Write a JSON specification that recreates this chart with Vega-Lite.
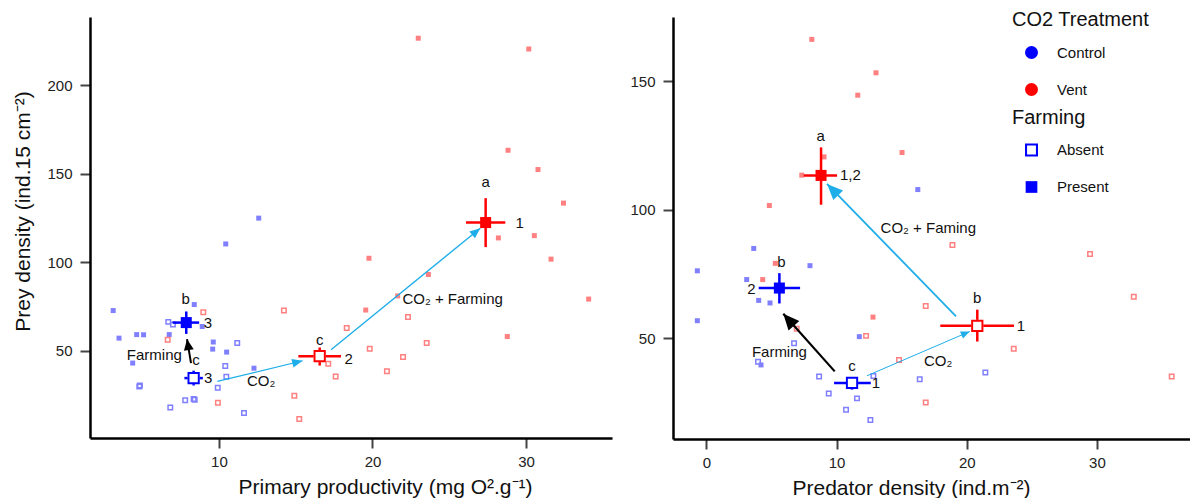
{
  "$schema": "https://vega.github.io/schema/vega-lite/v6.json",
  "padding": {"left": 12, "top": 10, "right": 0, "bottom": 0},
  "spacing": 17,
  "datasets": {
    "points": [
      {"panel":"PP","co2":"Control","farming":"Present","x":12.59,"y":124.9},
      {"panel":"PP","co2":"Control","farming":"Present","x":10.44,"y":110.3},
      {"panel":"PP","co2":"Control","farming":"Present","x":3.11,"y":72.6},
      {"panel":"PP","co2":"Control","farming":"Present","x":8.39,"y":76.0},
      {"panel":"PP","co2":"Control","farming":"Present","x":3.49,"y":57.0},
      {"panel":"PP","co2":"Control","farming":"Present","x":4.64,"y":59.0},
      {"panel":"PP","co2":"Control","farming":"Present","x":5.09,"y":58.9},
      {"panel":"PP","co2":"Control","farming":"Present","x":6.76,"y":59.0},
      {"panel":"PP","co2":"Control","farming":"Present","x":8.91,"y":63.6},
      {"panel":"PP","co2":"Control","farming":"Present","x":9.63,"y":54.8},
      {"panel":"PP","co2":"Control","farming":"Present","x":9.59,"y":50.8},
      {"panel":"PP","co2":"Control","farming":"Present","x":10.50,"y":49.1},
      {"panel":"PP","co2":"Control","farming":"Present","x":4.38,"y":42.9},
      {"panel":"PP","co2":"Control","farming":"Present","x":12.28,"y":40.0},
      {"panel":"PP","co2":"Control","farming":"Absent","x":6.70,"y":66.2},
      {"panel":"PP","co2":"Control","farming":"Absent","x":7.00,"y":64.7},
      {"panel":"PP","co2":"Control","farming":"Absent","x":11.19,"y":54.2},
      {"panel":"PP","co2":"Control","farming":"Absent","x":10.41,"y":41.3},
      {"panel":"PP","co2":"Control","farming":"Absent","x":10.48,"y":35.1},
      {"panel":"PP","co2":"Control","farming":"Absent","x":9.92,"y":28.9},
      {"panel":"PP","co2":"Control","farming":"Absent","x":4.81,"y":29.6},
      {"panel":"PP","co2":"Control","farming":"Absent","x":4.85,"y":30.2},
      {"panel":"PP","co2":"Control","farming":"Absent","x":7.80,"y":21.9},
      {"panel":"PP","co2":"Control","farming":"Absent","x":8.42,"y":22.1},
      {"panel":"PP","co2":"Control","farming":"Absent","x":8.35,"y":22.6},
      {"panel":"PP","co2":"Control","farming":"Absent","x":6.83,"y":17.8},
      {"panel":"PP","co2":"Control","farming":"Absent","x":11.63,"y":14.6},
      {"panel":"PP","co2":"Vent","farming":"Absent","x":8.98,"y":71.7},
      {"panel":"PP","co2":"Vent","farming":"Absent","x":14.23,"y":72.6},
      {"panel":"PP","co2":"Vent","farming":"Absent","x":6.66,"y":56.1},
      {"panel":"PP","co2":"Vent","farming":"Absent","x":17.12,"y":42.5},
      {"panel":"PP","co2":"Vent","farming":"Absent","x":17.60,"y":35.3},
      {"panel":"PP","co2":"Vent","farming":"Absent","x":14.91,"y":24.4},
      {"panel":"PP","co2":"Vent","farming":"Absent","x":9.93,"y":20.4},
      {"panel":"PP","co2":"Vent","farming":"Absent","x":15.23,"y":11.2},
      {"panel":"PP","co2":"Vent","farming":"Absent","x":18.32,"y":62.7},
      {"panel":"PP","co2":"Vent","farming":"Absent","x":19.82,"y":51.0},
      {"panel":"PP","co2":"Vent","farming":"Absent","x":22.31,"y":68.9},
      {"panel":"PP","co2":"Vent","farming":"Absent","x":23.53,"y":54.2},
      {"panel":"PP","co2":"Vent","farming":"Absent","x":21.99,"y":46.3},
      {"panel":"PP","co2":"Vent","farming":"Absent","x":20.94,"y":38.3},
      {"panel":"PP","co2":"Vent","farming":"Present","x":19.77,"y":102.2},
      {"panel":"PP","co2":"Vent","farming":"Present","x":23.64,"y":93.0},
      {"panel":"PP","co2":"Vent","farming":"Present","x":19.56,"y":72.9},
      {"panel":"PP","co2":"Vent","farming":"Present","x":21.64,"y":80.9},
      {"panel":"PP","co2":"Vent","farming":"Present","x":28.20,"y":113.7},
      {"panel":"PP","co2":"Vent","farming":"Present","x":30.54,"y":115.0},
      {"panel":"PP","co2":"Vent","farming":"Present","x":31.63,"y":101.7},
      {"panel":"PP","co2":"Vent","farming":"Present","x":32.44,"y":133.4},
      {"panel":"PP","co2":"Vent","farming":"Present","x":28.78,"y":57.9},
      {"panel":"PP","co2":"Vent","farming":"Present","x":22.98,"y":226.7},
      {"panel":"PP","co2":"Vent","farming":"Present","x":30.18,"y":220.6},
      {"panel":"PP","co2":"Vent","farming":"Present","x":28.83,"y":163.3},
      {"panel":"PP","co2":"Vent","farming":"Present","x":30.78,"y":152.4},
      {"panel":"PP","co2":"Vent","farming":"Present","x":34.08,"y":79.1},
      {"panel":"PD","co2":"Vent","farming":"Present","x":8.10,"y":166.3},
      {"panel":"PD","co2":"Vent","farming":"Present","x":13.03,"y":153.3},
      {"panel":"PD","co2":"Vent","farming":"Present","x":11.63,"y":144.6},
      {"panel":"PD","co2":"Vent","farming":"Present","x":15.03,"y":122.3},
      {"panel":"PD","co2":"Vent","farming":"Present","x":9.04,"y":120.6},
      {"panel":"PD","co2":"Vent","farming":"Present","x":7.33,"y":113.5},
      {"panel":"PD","co2":"Vent","farming":"Present","x":4.84,"y":101.7},
      {"panel":"PD","co2":"Vent","farming":"Present","x":5.30,"y":79.2},
      {"panel":"PD","co2":"Vent","farming":"Present","x":4.33,"y":72.9},
      {"panel":"PD","co2":"Vent","farming":"Present","x":12.80,"y":58.3},
      {"panel":"PD","co2":"Control","farming":"Present","x":16.24,"y":107.9},
      {"panel":"PD","co2":"Control","farming":"Present","x":3.64,"y":85.0},
      {"panel":"PD","co2":"Control","farming":"Present","x":-0.69,"y":76.3},
      {"panel":"PD","co2":"Control","farming":"Present","x":7.96,"y":78.3},
      {"panel":"PD","co2":"Control","farming":"Present","x":3.10,"y":72.9},
      {"panel":"PD","co2":"Control","farming":"Present","x":4.02,"y":64.8},
      {"panel":"PD","co2":"Control","farming":"Present","x":4.89,"y":63.8},
      {"panel":"PD","co2":"Control","farming":"Present","x":-0.69,"y":56.9},
      {"panel":"PD","co2":"Control","farming":"Present","x":11.75,"y":50.7},
      {"panel":"PD","co2":"Control","farming":"Present","x":4.20,"y":39.7},
      {"panel":"PD","co2":"Vent","farming":"Absent","x":6.94,"y":53.8},
      {"panel":"PD","co2":"Vent","farming":"Absent","x":12.27,"y":51.0},
      {"panel":"PD","co2":"Vent","farming":"Absent","x":14.80,"y":41.6},
      {"panel":"PD","co2":"Vent","farming":"Absent","x":18.90,"y":86.3},
      {"panel":"PD","co2":"Vent","farming":"Absent","x":16.85,"y":62.6},
      {"panel":"PD","co2":"Vent","farming":"Absent","x":23.61,"y":46.0},
      {"panel":"PD","co2":"Vent","farming":"Absent","x":16.85,"y":25.1},
      {"panel":"PD","co2":"Vent","farming":"Absent","x":29.47,"y":82.8},
      {"panel":"PD","co2":"Vent","farming":"Absent","x":32.83,"y":66.2},
      {"panel":"PD","co2":"Vent","farming":"Absent","x":35.74,"y":35.2},
      {"panel":"PD","co2":"Control","farming":"Absent","x":6.74,"y":48.1},
      {"panel":"PD","co2":"Control","farming":"Absent","x":3.97,"y":40.9},
      {"panel":"PD","co2":"Control","farming":"Absent","x":8.66,"y":35.2},
      {"panel":"PD","co2":"Control","farming":"Absent","x":12.83,"y":35.4},
      {"panel":"PD","co2":"Control","farming":"Absent","x":9.40,"y":28.6},
      {"panel":"PD","co2":"Control","farming":"Absent","x":11.57,"y":26.7},
      {"panel":"PD","co2":"Control","farming":"Absent","x":10.73,"y":22.3},
      {"panel":"PD","co2":"Control","farming":"Absent","x":12.60,"y":18.3},
      {"panel":"PD","co2":"Control","farming":"Absent","x":16.39,"y":34.1},
      {"panel":"PD","co2":"Control","farming":"Absent","x":21.43,"y":36.8}
    ],
    "means": [
      {"panel":"PP","co2":"Control","farming":"Absent","x":8.35,"xlo":7.75,"xhi":8.95,"y":34.4,"ylo":30.2,"yhi":38.6},
      {"panel":"PP","co2":"Control","farming":"Present","x":7.87,"xlo":6.98,"xhi":8.71,"y":65.8,"ylo":59.4,"yhi":72.1},
      {"panel":"PP","co2":"Vent","farming":"Absent","x":16.56,"xlo":15.17,"xhi":17.95,"y":46.8,"ylo":41.5,"yhi":51.7},
      {"panel":"PP","co2":"Vent","farming":"Present","x":27.37,"xlo":26.09,"xhi":28.65,"y":122.4,"ylo":108.5,"yhi":136.2},
      {"panel":"PD","co2":"Control","farming":"Absent","x":11.19,"xlo":9.81,"xhi":12.63,"y":32.7,"ylo":30.1,"yhi":35.0},
      {"panel":"PD","co2":"Control","farming":"Present","x":5.61,"xlo":4.02,"xhi":7.20,"y":69.6,"ylo":63.6,"yhi":75.4},
      {"panel":"PD","co2":"Vent","farming":"Absent","x":20.81,"xlo":17.97,"xhi":23.63,"y":54.9,"ylo":48.8,"yhi":61.2},
      {"panel":"PD","co2":"Vent","farming":"Present","x":8.81,"xlo":7.48,"xhi":10.04,"y":113.4,"ylo":102.0,"yhi":124.3}
    ],
    "arrows": [
      {"panel":"PP","effect":"Farming","x":8.18,"y":42.9,"x2":7.92,"y2":56.4},
      {"panel":"PP","effect":"CO2","x":9.89,"y":32.5,"x2":15.45,"y2":44.2},
      {"panel":"PP","effect":"CO2 + Farming","x":17.30,"y":50.4,"x2":27.02,"y2":119.2},
      {"panel":"PD","effect":"Farming","x":9.86,"y":37.2,"x2":5.91,"y2":59.6},
      {"panel":"PD","effect":"CO2","x":12.34,"y":35.5,"x2":20.23,"y2":52.7},
      {"panel":"PD","effect":"CO2 + Farming","x":19.18,"y":58.6,"x2":9.27,"y2":110.1}
    ],
    "labels": [
      {"panel":"PP","x":27.37,"y":145.3,"label":"a"},
      {"panel":"PP","x":7.83,"y":79.4,"label":"b"},
      {"panel":"PP","x":8.50,"y":44.7,"label":"c"},
      {"panel":"PP","x":16.56,"y":56.1,"label":"c"},
      {"panel":"PP","x":9.28,"y":65.5,"label":"3"},
      {"panel":"PP","x":9.30,"y":34.4,"label":"3"},
      {"panel":"PP","x":18.45,"y":45.3,"label":"2"},
      {"panel":"PP","x":29.59,"y":122.4,"label":"1"},
      {"panel":"PP","x":5.79,"y":47.6,"label":"Farming"},
      {"panel":"PP","x":12.74,"y":32.5,"label":"CO₂"},
      {"panel":"PP","x":25.22,"y":79.1,"label":"CO₂ + Farming"},
      {"panel":"PD","x":8.79,"y":128.9,"label":"a"},
      {"panel":"PD","x":11.06,"y":113.4,"label":"1,2"},
      {"panel":"PD","x":5.76,"y":79.7,"label":"b"},
      {"panel":"PD","x":3.46,"y":69.2,"label":"2"},
      {"panel":"PD","x":11.19,"y":39.4,"label":"c"},
      {"panel":"PD","x":13.03,"y":32.7,"label":"1"},
      {"panel":"PD","x":20.81,"y":65.9,"label":"b"},
      {"panel":"PD","x":24.16,"y":55.0,"label":"1"},
      {"panel":"PD","x":5.61,"y":44.8,"label":"Farming"},
      {"panel":"PD","x":17.80,"y":41.1,"label":"CO₂"},
      {"panel":"PD","x":17.05,"y":92.9,"label":"CO₂ + Faming"}
    ]
  },
  "hconcat": [
    {
      "width": 522,
      "height": 421,
      "layer": [
        {
          "data": {"name": "points"},
          "transform": [{"filter": "datum.panel === 'PP' && datum.farming === 'Present'"}],
          "mark": {"type": "point", "shape": "square", "filled": true, "size": 25, "opacity": 1},
          "encoding": {
            "x": {"field": "x", "type": "quantitative", "scale": {"domain": [1.6, 35.6], "nice": false, "zero": false}, "title": "Primary productivity (mg O².g⁻¹)", "axis": {"values": [10, 20, 30], "titleX": 295, "titlePadding": 7}},
            "y": {"field": "y", "type": "quantitative", "scale": {"domain": [0.5, 238.7], "nice": false, "zero": false}, "title": "Prey density (ind.15 cm⁻²)", "axis": {"values": [50, 100, 150, 200], "titleY": 194, "labelPadding": 8, "titlePadding": 13}},
            "fill": {"field": "co2", "type": "nominal", "scale": {"domain": ["Vent", "Control"], "range": ["#ff8080", "#8080ff"]}, "legend": null}
          }
        },
        {
          "data": {"name": "points"},
          "transform": [{"filter": "datum.panel === 'PP' && datum.farming === 'Absent'"}],
          "mark": {"type": "point", "shape": "square", "filled": false, "size": 20, "strokeWidth": 1.5, "opacity": 1},
          "encoding": {
            "x": {"field": "x", "type": "quantitative", "title": "Primary productivity (mg O².g⁻¹)"},
            "y": {"field": "y", "type": "quantitative", "title": "Prey density (ind.15 cm⁻²)"},
            "stroke": {"field": "co2", "type": "nominal", "scale": {"domain": ["Vent", "Control"], "range": ["#ff8080", "#8080ff"]}, "legend": null}
          }
        },
        {
          "data": {"name": "arrows"},
          "transform": [{"filter": "datum.panel === 'PP'"}, {"calculate": "atan2((datum.x2 - datum.x) * 15.35, (datum.y2 - datum.y) * 1.768) * 180 / PI", "as": "angle"}],
          "layer": [
            {
              "transform": [{"filter": "datum.effect === 'Farming'"}],
              "layer": [
                {"mark": {"type": "rule", "color": "black", "strokeWidth": 2},
                 "encoding": {"x": {"field": "x", "type": "quantitative", "title": "Primary productivity (mg O².g⁻¹)"}, "y": {"field": "y", "type": "quantitative", "title": "Prey density (ind.15 cm⁻²)"}, "x2": {"field": "x2"}, "y2": {"field": "y2"}}},
                {"mark": {"type": "point", "shape": "M0,0L-0.9,2L0.9,2Z", "filled": true, "color": "black", "size": 121, "opacity": 1},
                 "encoding": {"x": {"field": "x2", "type": "quantitative", "title": "Primary productivity (mg O².g⁻¹)"}, "y": {"field": "y2", "type": "quantitative", "title": "Prey density (ind.15 cm⁻²)"}, "angle": {"field": "angle", "type": "quantitative", "scale": null}}}
              ]
            },
            {
              "transform": [{"filter": "datum.effect === 'CO2'"}],
              "layer": [
                {"mark": {"type": "rule", "color": "#1faee9", "strokeWidth": 1.2},
                 "encoding": {"x": {"field": "x", "type": "quantitative", "title": "Primary productivity (mg O².g⁻¹)"}, "y": {"field": "y", "type": "quantitative", "title": "Prey density (ind.15 cm⁻²)"}, "x2": {"field": "x2"}, "y2": {"field": "y2"}}},
                {"mark": {"type": "point", "shape": "M0,0L-0.85,2L0.85,2Z", "filled": true, "color": "#1faee9", "size": 110, "opacity": 1},
                 "encoding": {"x": {"field": "x2", "type": "quantitative", "title": "Primary productivity (mg O².g⁻¹)"}, "y": {"field": "y2", "type": "quantitative", "title": "Prey density (ind.15 cm⁻²)"}, "angle": {"field": "angle", "type": "quantitative", "scale": null}}}
              ]
            },
            {
              "transform": [{"filter": "datum.effect === 'CO2 + Farming'"}],
              "layer": [
                {"mark": {"type": "rule", "color": "#1faee9", "strokeWidth": 1.4},
                 "encoding": {"x": {"field": "x", "type": "quantitative", "title": "Primary productivity (mg O².g⁻¹)"}, "y": {"field": "y", "type": "quantitative", "title": "Prey density (ind.15 cm⁻²)"}, "x2": {"field": "x2"}, "y2": {"field": "y2"}}},
                {"mark": {"type": "point", "shape": "M0,0L-0.85,2L0.85,2Z", "filled": true, "color": "#1faee9", "size": 110, "opacity": 1},
                 "encoding": {"x": {"field": "x2", "type": "quantitative", "title": "Primary productivity (mg O².g⁻¹)"}, "y": {"field": "y2", "type": "quantitative", "title": "Prey density (ind.15 cm⁻²)"}, "angle": {"field": "angle", "type": "quantitative", "scale": null}}}
              ]
            }
          ]
        },
        {
          "data": {"name": "means"},
          "transform": [{"filter": "datum.panel === 'PP'"}],
          "layer": [
            {
              "transform": [{"filter": "datum.co2 === 'Control'"}],
              "layer": [
                {"mark": {"type": "rule", "color": "#0000ff", "strokeWidth": 2.5},
                 "encoding": {"x": {"field": "xlo", "type": "quantitative", "title": "Primary productivity (mg O².g⁻¹)"}, "x2": {"field": "xhi"}, "y": {"field": "y", "type": "quantitative", "title": "Prey density (ind.15 cm⁻²)"}}},
                {"mark": {"type": "rule", "color": "#0000ff", "strokeWidth": 2.5},
                 "encoding": {"x": {"field": "x", "type": "quantitative", "title": "Primary productivity (mg O².g⁻¹)"}, "y": {"field": "ylo", "type": "quantitative", "title": "Prey density (ind.15 cm⁻²)"}, "y2": {"field": "yhi"}}}
              ]
            },
            {
              "transform": [{"filter": "datum.co2 === 'Vent'"}],
              "layer": [
                {"mark": {"type": "rule", "color": "#ff0000", "strokeWidth": 2.5},
                 "encoding": {"x": {"field": "xlo", "type": "quantitative", "title": "Primary productivity (mg O².g⁻¹)"}, "x2": {"field": "xhi"}, "y": {"field": "y", "type": "quantitative", "title": "Prey density (ind.15 cm⁻²)"}}},
                {"mark": {"type": "rule", "color": "#ff0000", "strokeWidth": 2.5},
                 "encoding": {"x": {"field": "x", "type": "quantitative", "title": "Primary productivity (mg O².g⁻¹)"}, "y": {"field": "ylo", "type": "quantitative", "title": "Prey density (ind.15 cm⁻²)"}, "y2": {"field": "yhi"}}}
              ]
            }
          ]
        },
        {
          "data": {"name": "means"},
          "transform": [{"filter": "datum.panel === 'PP' && datum.farming === 'Absent'"}],
          "mark": {"type": "point", "shape": "square", "filled": true, "color": "white", "size": 144, "opacity": 1},
          "encoding": {
            "x": {"field": "x", "type": "quantitative", "title": "Primary productivity (mg O².g⁻¹)"},
            "y": {"field": "y", "type": "quantitative", "title": "Prey density (ind.15 cm⁻²)"}
          }
        },
        {
          "data": {"name": "means"},
          "transform": [{"filter": "datum.panel === 'PP'"}],
          "mark": {"type": "point", "filled": true, "size": 150, "opacity": 1},
          "encoding": {
            "x": {"field": "x", "type": "quantitative", "title": "Primary productivity (mg O².g⁻¹)"},
            "y": {"field": "y", "type": "quantitative", "title": "Prey density (ind.15 cm⁻²)"},
            "color": {"field": "co2", "type": "nominal", "scale": {"domain": ["Control", "Vent"], "range": ["#0000ff", "#ff0000"]}, "title": "CO2 Treatment",
              "legend": {"orient": "none", "legendX": 922, "legendY": -7, "symbolType": "circle", "symbolOpacity": 1, "symbolSize": 169,
                "encoding": {"symbols": {"shape": {"value": "circle"}, "opacity": {"value": 1}, "size": {"value": 169}}}}},
            "shape": {"field": "farming", "type": "nominal", "scale": {"domain": ["Absent", "Present"], "range": ["M-1,-1H1V1H-1Z M-0.68,-0.68V0.68H0.68V-0.68Z", "M-0.9,-0.9H0.9V0.9H-0.9Z"]}, "title": "Farming",
              "legend": {"orient": "none", "legendX": 922, "legendY": 90.5, "symbolOpacity": 1, "symbolSize": 169,
                "encoding": {"symbols": {"fill": {"value": "#0000ff"}, "stroke": {"value": "transparent"}, "strokeWidth": {"value": 0}, "opacity": {"value": 1}, "size": {"value": 169}}}}}
          }
        },
        {
          "data": {"name": "labels"},
          "transform": [{"filter": "datum.panel === 'PP'"}],
          "mark": {"type": "text", "fontSize": 15, "color": "#111111", "align": "center", "baseline": "middle"},
          "encoding": {
            "x": {"field": "x", "type": "quantitative", "title": "Primary productivity (mg O².g⁻¹)"},
            "y": {"field": "y", "type": "quantitative", "title": "Prey density (ind.15 cm⁻²)"},
            "text": {"field": "label"}
          }
        }
      ]
    },
    {
      "width": 519,
      "height": 422,
      "layer": [
        {
          "data": {"name": "points"},
          "transform": [{"filter": "datum.panel === 'PD' && datum.farming === 'Present'"}],
          "mark": {"type": "point", "shape": "square", "filled": true, "size": 25, "opacity": 1},
          "encoding": {
            "x": {"field": "x", "type": "quantitative", "scale": {"domain": [-2.56, 37.3], "nice": false, "zero": false}, "title": "Predator density (ind.m⁻²)", "axis": {"values": [0, 10, 20, 30], "titleX": 238, "titlePadding": 7}},
            "y": {"field": "y", "type": "quantitative", "scale": {"domain": [10.9, 175.0], "nice": false, "zero": false}, "title": null, "axis": {"values": [50, 100, 150], "labelPadding": 8}},
            "fill": {"field": "co2", "type": "nominal", "scale": {"domain": ["Vent", "Control"], "range": ["#ff8080", "#8080ff"]}, "legend": null}
          }
        },
        {
          "data": {"name": "points"},
          "transform": [{"filter": "datum.panel === 'PD' && datum.farming === 'Absent'"}],
          "mark": {"type": "point", "shape": "square", "filled": false, "size": 20, "strokeWidth": 1.5, "opacity": 1},
          "encoding": {
            "x": {"field": "x", "type": "quantitative", "title": "Predator density (ind.m⁻²)"},
            "y": {"field": "y", "type": "quantitative", "title": null},
            "stroke": {"field": "co2", "type": "nominal", "scale": {"domain": ["Vent", "Control"], "range": ["#ff8080", "#8080ff"]}, "legend": null}
          }
        },
        {
          "data": {"name": "arrows"},
          "transform": [{"filter": "datum.panel === 'PD'"}, {"calculate": "atan2((datum.x2 - datum.x) * 13.02, (datum.y2 - datum.y) * 2.572) * 180 / PI", "as": "angle"}],
          "layer": [
            {
              "transform": [{"filter": "datum.effect === 'Farming'"}],
              "layer": [
                {"mark": {"type": "rule", "color": "black", "strokeWidth": 2.2},
                 "encoding": {"x": {"field": "x", "type": "quantitative", "title": "Predator density (ind.m⁻²)"}, "y": {"field": "y", "type": "quantitative", "title": null}, "x2": {"field": "x2"}, "y2": {"field": "y2"}}},
                {"mark": {"type": "point", "shape": "M0,0L-0.9,2L0.9,2Z", "filled": true, "color": "black", "size": 256, "opacity": 1},
                 "encoding": {"x": {"field": "x2", "type": "quantitative", "title": "Predator density (ind.m⁻²)"}, "y": {"field": "y2", "type": "quantitative", "title": null}, "angle": {"field": "angle", "type": "quantitative", "scale": null}}}
              ]
            },
            {
              "transform": [{"filter": "datum.effect === 'CO2'"}],
              "layer": [
                {"mark": {"type": "rule", "color": "#1faee9", "strokeWidth": 1},
                 "encoding": {"x": {"field": "x", "type": "quantitative", "title": "Predator density (ind.m⁻²)"}, "y": {"field": "y", "type": "quantitative", "title": null}, "x2": {"field": "x2"}, "y2": {"field": "y2"}}},
                {"mark": {"type": "point", "shape": "M0,0L-0.85,2L0.85,2Z", "filled": true, "color": "#1faee9", "size": 81, "opacity": 1},
                 "encoding": {"x": {"field": "x2", "type": "quantitative", "title": "Predator density (ind.m⁻²)"}, "y": {"field": "y2", "type": "quantitative", "title": null}, "angle": {"field": "angle", "type": "quantitative", "scale": null}}}
              ]
            },
            {
              "transform": [{"filter": "datum.effect === 'CO2 + Farming'"}],
              "layer": [
                {"mark": {"type": "rule", "color": "#1faee9", "strokeWidth": 1.8},
                 "encoding": {"x": {"field": "x", "type": "quantitative", "title": "Predator density (ind.m⁻²)"}, "y": {"field": "y", "type": "quantitative", "title": null}, "x2": {"field": "x2"}, "y2": {"field": "y2"}}},
                {"mark": {"type": "point", "shape": "M0,0L-0.85,2L0.85,2Z", "filled": true, "color": "#1faee9", "size": 256, "opacity": 1},
                 "encoding": {"x": {"field": "x2", "type": "quantitative", "title": "Predator density (ind.m⁻²)"}, "y": {"field": "y2", "type": "quantitative", "title": null}, "angle": {"field": "angle", "type": "quantitative", "scale": null}}}
              ]
            }
          ]
        },
        {
          "data": {"name": "means"},
          "transform": [{"filter": "datum.panel === 'PD'"}],
          "layer": [
            {
              "transform": [{"filter": "datum.co2 === 'Control'"}],
              "layer": [
                {"mark": {"type": "rule", "color": "#0000ff", "strokeWidth": 2.5},
                 "encoding": {"x": {"field": "xlo", "type": "quantitative", "title": "Predator density (ind.m⁻²)"}, "x2": {"field": "xhi"}, "y": {"field": "y", "type": "quantitative", "title": null}}},
                {"mark": {"type": "rule", "color": "#0000ff", "strokeWidth": 2.5},
                 "encoding": {"x": {"field": "x", "type": "quantitative", "title": "Predator density (ind.m⁻²)"}, "y": {"field": "ylo", "type": "quantitative", "title": null}, "y2": {"field": "yhi"}}}
              ]
            },
            {
              "transform": [{"filter": "datum.co2 === 'Vent'"}],
              "layer": [
                {"mark": {"type": "rule", "color": "#ff0000", "strokeWidth": 2.5},
                 "encoding": {"x": {"field": "xlo", "type": "quantitative", "title": "Predator density (ind.m⁻²)"}, "x2": {"field": "xhi"}, "y": {"field": "y", "type": "quantitative", "title": null}}},
                {"mark": {"type": "rule", "color": "#ff0000", "strokeWidth": 2.5},
                 "encoding": {"x": {"field": "x", "type": "quantitative", "title": "Predator density (ind.m⁻²)"}, "y": {"field": "ylo", "type": "quantitative", "title": null}, "y2": {"field": "yhi"}}}
              ]
            }
          ]
        },
        {
          "data": {"name": "means"},
          "transform": [{"filter": "datum.panel === 'PD' && datum.farming === 'Absent'"}],
          "mark": {"type": "point", "shape": "square", "filled": true, "color": "white", "size": 144, "opacity": 1},
          "encoding": {
            "x": {"field": "x", "type": "quantitative", "title": "Predator density (ind.m⁻²)"},
            "y": {"field": "y", "type": "quantitative", "title": null}
          }
        },
        {
          "data": {"name": "means"},
          "transform": [{"filter": "datum.panel === 'PD'"}],
          "mark": {"type": "point", "filled": true, "size": 150, "opacity": 1},
          "encoding": {
            "x": {"field": "x", "type": "quantitative", "title": "Predator density (ind.m⁻²)"},
            "y": {"field": "y", "type": "quantitative", "title": null},
            "color": {"field": "co2", "type": "nominal", "scale": {"domain": ["Control", "Vent"], "range": ["#0000ff", "#ff0000"]}, "title": "CO2 Treatment"},
            "shape": {"field": "farming", "type": "nominal", "scale": {"domain": ["Absent", "Present"], "range": ["M-1,-1H1V1H-1Z M-0.68,-0.68V0.68H0.68V-0.68Z", "M-0.9,-0.9H0.9V0.9H-0.9Z"]}, "title": "Farming"}
          }
        },
        {
          "data": {"name": "labels"},
          "transform": [{"filter": "datum.panel === 'PD'"}],
          "mark": {"type": "text", "fontSize": 15, "color": "#111111", "align": "center", "baseline": "middle"},
          "encoding": {
            "x": {"field": "x", "type": "quantitative", "title": "Predator density (ind.m⁻²)"},
            "y": {"field": "y", "type": "quantitative", "title": null},
            "text": {"field": "label"}
          }
        }
      ]
    }
  ],
  "config": {
    "font": "Liberation Sans",
    "view": {"stroke": null},
    "axis": {
      "grid": false,
      "domainColor": "black",
      "domainWidth": 2.5,
      "tickColor": "#444444",
      "tickWidth": 2,
      "tickSize": 10,
      "labelFontSize": 15,
      "labelColor": "#222222",
      "labelPadding": 6,
      "titleFontSize": 21,
      "titleFontWeight": "normal",
      "titleColor": "#111111"
    },
    "legend": {
      "titleFontSize": 20,
      "titleFontWeight": "normal",
      "titleColor": "#111111",
      "labelFontSize": 15,
      "labelColor": "#111111",
      "labelOffset": 18,
      "symbolOffset": 12,
      "rowPadding": 21,
      "titlePadding": 15,
      "padding": 0
    }
  }
}
